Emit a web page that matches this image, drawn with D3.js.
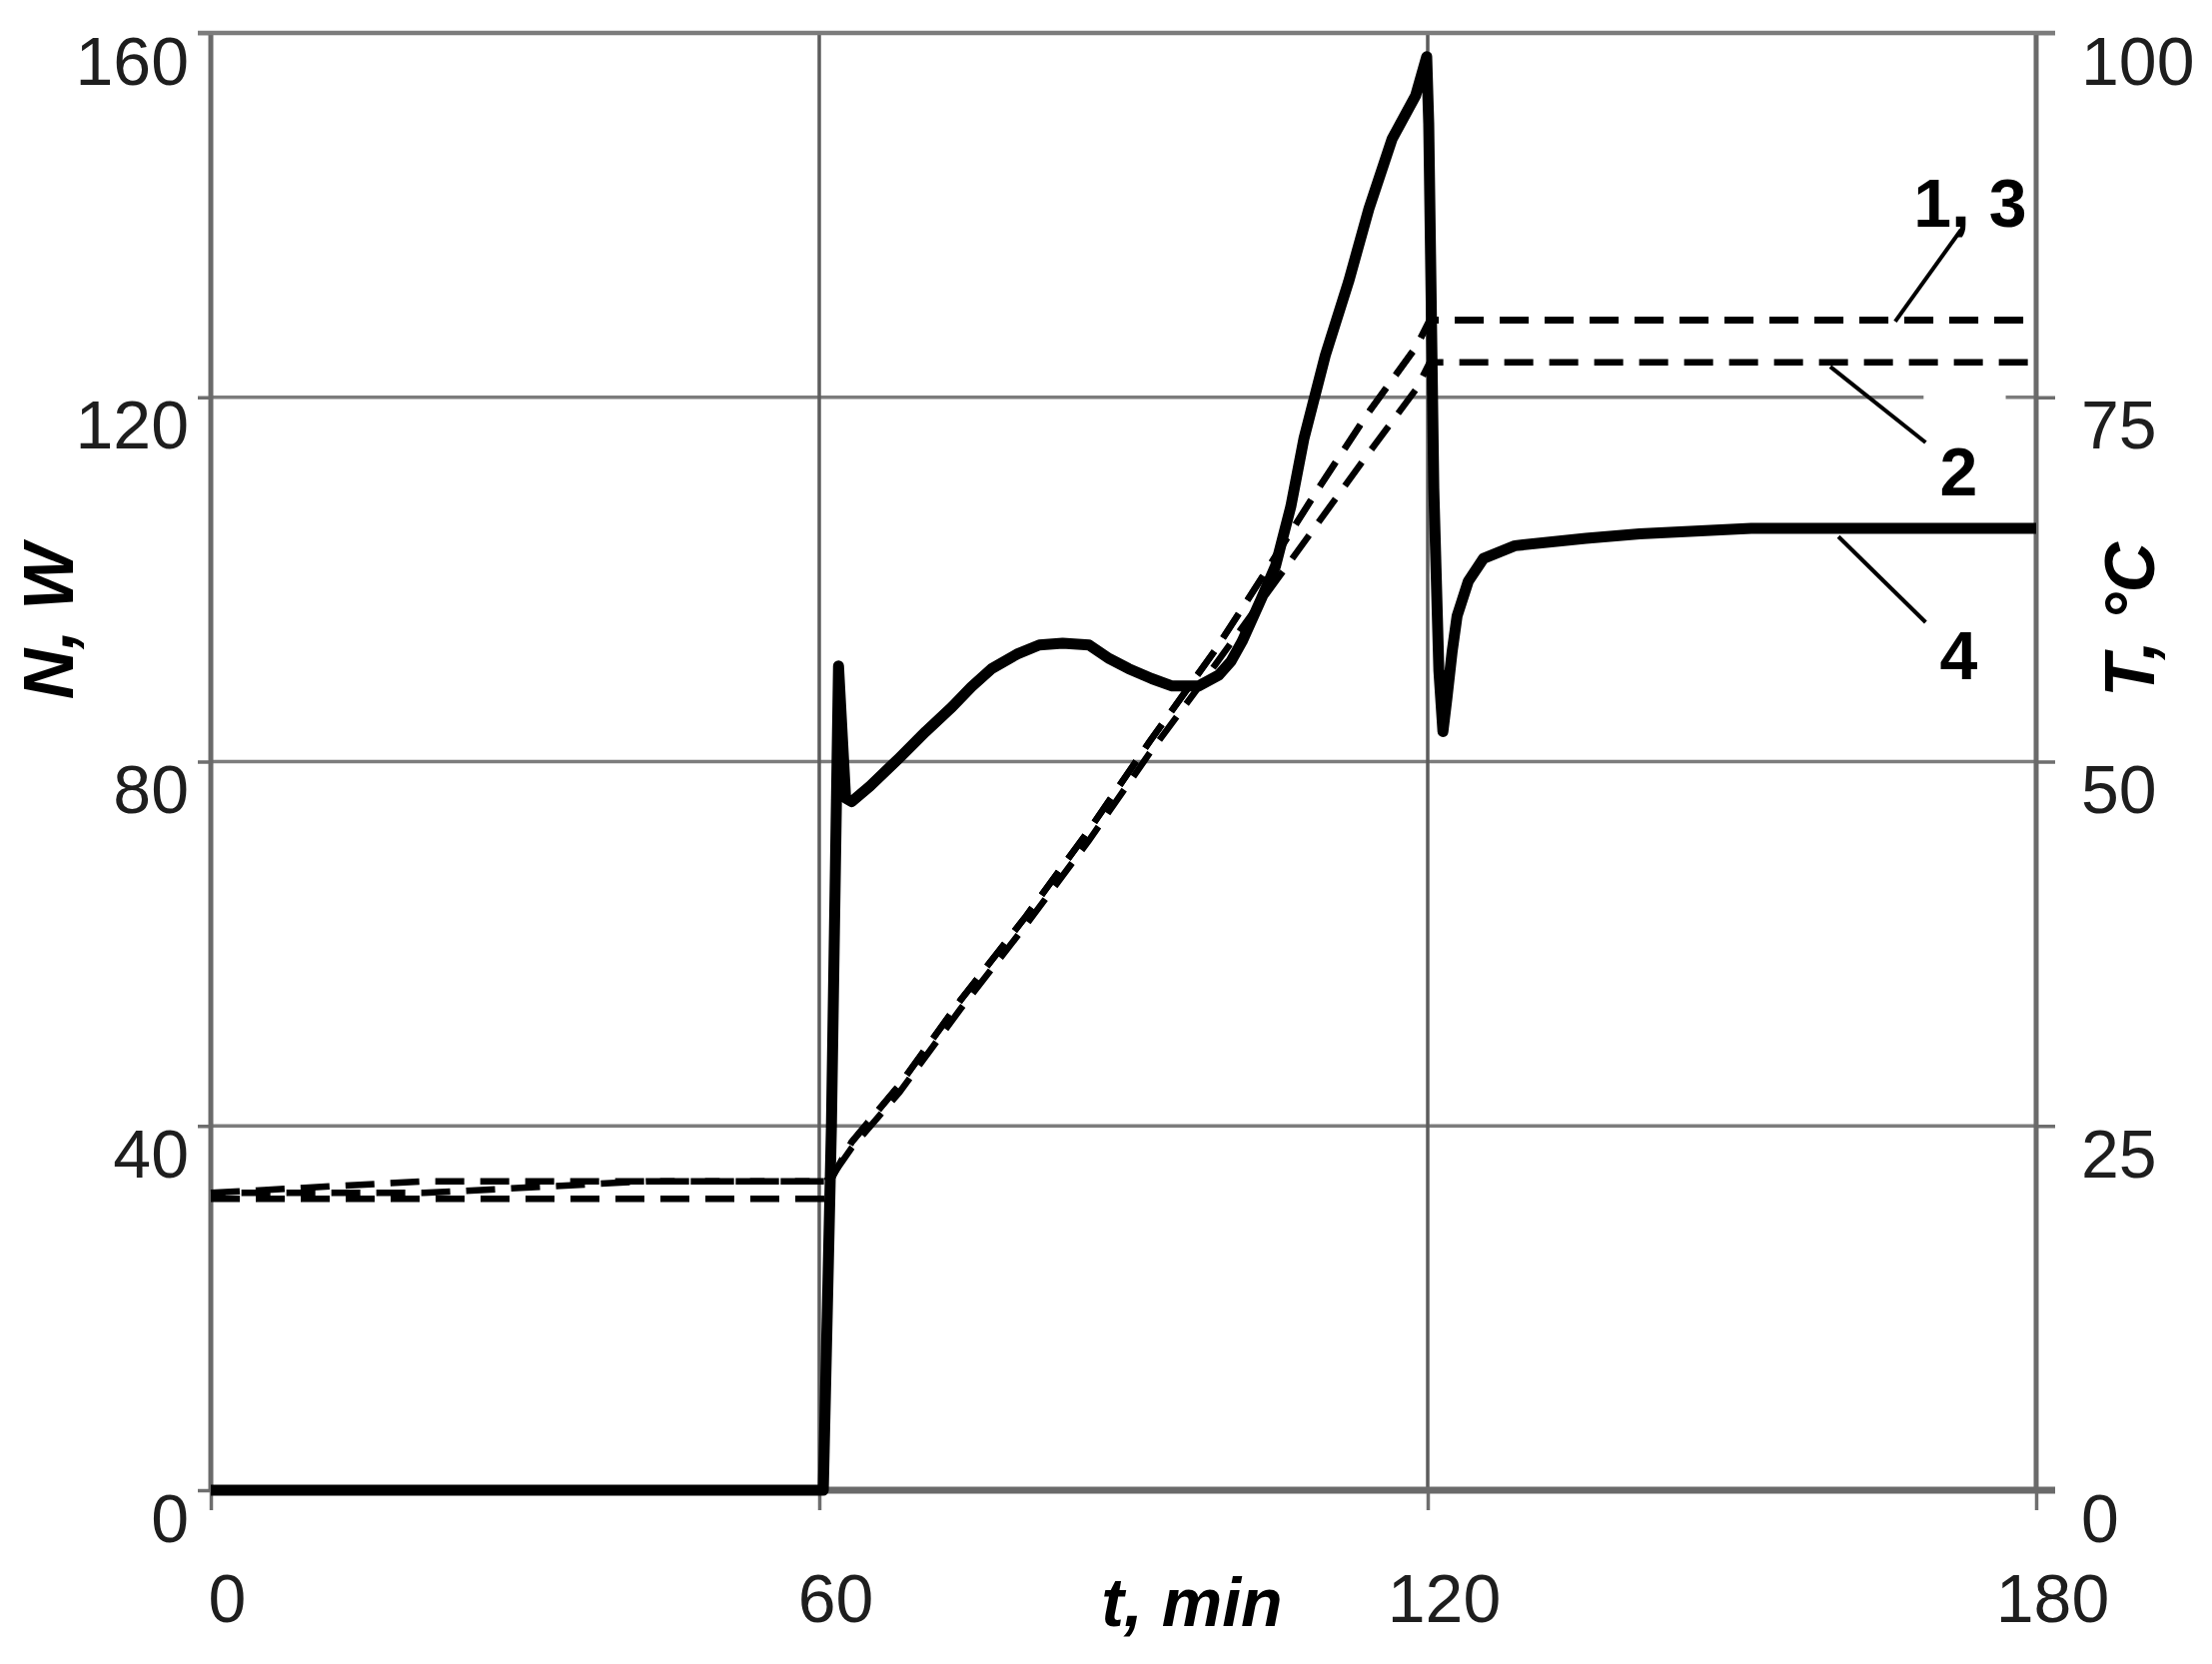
<!DOCTYPE html>
<html>
<head>
<meta charset="utf-8">
<script src="https://cdn.jsdelivr.net/npm/d3@7"></script>
<style>
  body { margin: 0; background: #fff; }
  text { font-family: "Liberation Sans", Arial, sans-serif; }
</style>
</head>
<body>
<div id="chart"></div>
<script>
// power, curve 4 (N, W)
const powerTime = [0, 60.4, 61.2, 61.9, 62.6, 63.2, 65, 67.9, 70.5, 73.1, 75, 77, 79.5, 81.7, 84, 86.6, 88.6, 90.5, 92.8, 94.8, 97.4, 99.4, 100.6, 101.7, 103.6, 105, 106.5, 107.8, 109.9, 112.2, 114.2, 116.5, 118.8, 119.9, 120.1, 120.6, 121.1, 121.5, 121.9, 122.4, 122.9, 124, 125.5, 128.6, 135.6, 140.9, 151.9, 180];
const powerN = [0, 0, 40, 90.5, 76, 75.6, 77.3, 80.4, 83.3, 86, 88.2, 90.2, 91.8, 92.8, 93, 92.8, 91.3, 90.2, 89.1, 88.3, 88.3, 89.5, 91, 93.2, 97.9, 101.5, 108, 115.5, 124.6, 132.7, 140.7, 148.4, 153.1, 157.4, 150, 110, 90, 83.3, 87, 92, 96, 99.8, 102.3, 103.7, 104.5, 105, 105.6, 105.6];

// temperatures, curves 1, 2, 3 (T, °C)
const temp1Time = [0, 60.6, 61.3, 63.2, 67.9, 73.9, 80.4, 86.6, 92.6, 99, 104, 109, 114, 118.9, 120.2, 180];
const temp1 = [20.0, 20.0, 21.5, 23.9, 27.8, 33.6, 39.4, 45.3, 51.4, 57.6, 63.0, 68.5, 73.8, 78.5, 80.3, 80.3];
const temp2Time = [0, 21, 60.6, 61.3, 63.2, 67.9, 73.9, 80.4, 86.6, 92.6, 99, 104, 109, 114, 118.9, 120.2, 180];
const temp2 = [20.4, 21.2, 21.2, 21.6, 23.5, 27.3, 33.0, 38.8, 44.6, 50.6, 56.6, 61.4, 66.2, 71.0, 75.6, 77.4, 77.4];
const temp3Time = [0, 21, 43, 60.6, 61.3, 63.2, 67.9, 73.9, 80.4, 86.6, 92.6, 99, 104, 109, 114, 118.9, 120.2, 180];
const temp3 = [20.4, 20.4, 21.2, 21.2, 21.5, 23.9, 27.8, 33.6, 39.4, 45.3, 51.4, 57.6, 63.0, 68.5, 73.8, 78.5, 80.3, 80.3];

const timeTicks = [0, 60, 120, 180];
const powerTicks = [0, 40, 80, 120, 160];
const tempTicks = [0, 25, 50, 75, 100];

const width = 2214;
const height = 1666;
const margin = { top: 33, right: 176, bottom: 174, left: 211 };

const svg = d3.select("#chart").append("svg")
  .attr("width", width)
  .attr("height", height);

svg.append("rect").attr("width", width).attr("height", height).attr("fill", "#fff");

const x = d3.scaleLinear().domain([0, 180]).range([margin.left, width - margin.right]);
const yN = d3.scaleLinear().domain([0, 160]).range([height - margin.bottom, margin.top]);
const yT = d3.scaleLinear().domain([0, 100]).range([height - margin.bottom, margin.top]);

const x0 = x(0), x1 = x(180), yb = yN(0), yt = yN(160);

// grid
svg.append("g")
  .selectAll("line")
  .data(powerTicks.filter(d => d > 0))
  .join("line")
  .attr("x1", x0).attr("x2", x1)
  .attr("y1", d => yN(d)).attr("y2", d => yN(d))
  .attr("stroke", "#7c7c7c")
  .attr("stroke-width", 3.5);

svg.append("g")
  .selectAll("line")
  .data([60, 120])
  .join("line")
  .attr("x1", d => x(d)).attr("x2", d => x(d))
  .attr("y1", yt).attr("y2", yb)
  .attr("stroke", "#5c5c5c")
  .attr("stroke-width", 3.5);

// axes
const styleAxis = g => {
  g.select(".domain").remove();
  g.selectAll(".tick line").attr("stroke", "#6e6e6e").attr("stroke-width", 3.5);
  g.selectAll(".tick text")
    .attr("fill", "#1e1e1e")
    .style("font-size", "68px");
};

svg.append("g")
  .attr("transform", `translate(${x0},0)`)
  .call(d3.axisLeft(yN).tickValues(powerTicks).tickSize(13).tickPadding(9))
  .call(styleAxis)
  .call(g => g.selectAll(".tick text").attr("dy", "0.75em"));

svg.append("g")
  .attr("transform", `translate(${x1},0)`)
  .call(d3.axisRight(yT).tickValues(tempTicks).tickSize(19).tickPadding(26))
  .call(styleAxis)
  .call(g => g.selectAll(".tick text").attr("dy", "0.75em"));

svg.append("g")
  .attr("transform", `translate(0,${yb})`)
  .call(d3.axisBottom(x).tickValues(timeTicks).tickSize(20).tickPadding(64))
  .call(styleAxis)
  .call(g => g.selectAll(".tick text").attr("dx", 16));

// frame
svg.append("line").attr("x1", x0).attr("x2", x0).attr("y1", yt).attr("y2", yb)
  .attr("stroke", "#6a6a6a").attr("stroke-width", 5);
svg.append("line").attr("x1", x1).attr("x2", x1).attr("y1", yt).attr("y2", yb)
  .attr("stroke", "#6a6a6a").attr("stroke-width", 5);
svg.append("line").attr("x1", x0).attr("x2", x1 + 19).attr("y1", yb).attr("y2", yb)
  .attr("stroke", "#6a6a6a").attr("stroke-width", 7);
svg.append("line").attr("x1", x0 - 13).attr("x2", x1 + 19).attr("y1", yt).attr("y2", yt)
  .attr("stroke", "#7c7c7c").attr("stroke-width", 4.5);

// white box behind label 2 (breaks the 120 grid line like the original)
svg.append("rect")
  .attr("x", x(168.9)).attr("y", yT(75.5))
  .attr("width", x(177) - x(168.9)).attr("height", yT(67.6) - yT(75.5))
  .attr("fill", "#fff");

// temperature curves
const tLine = d3.line().x(d => x(d[0])).y(d => yT(d[1]));
const temps = [
  d3.zip(temp1Time, temp1),
  d3.zip(temp2Time, temp2),
  d3.zip(temp3Time, temp3)
];

const tempPaths = svg.append("g")
  .selectAll("path")
  .data(temps)
  .join("path")
  .attr("d", tLine)
  .attr("fill", "none")
  .attr("stroke", "#000")
  .attr("stroke-width", 6.5)
  .attr("stroke-dasharray", "29,16");

// curves 1 and 3 run together after 60 min: line up their dashes
const len = tempPaths.nodes().map(n => n.getTotalLength());
d3.select(tempPaths.nodes()[2]).attr("stroke-dashoffset", len[0] - len[2]);

// power curve
const nLine = d3.line().x(d => x(d[0])).y(d => yN(d[1]));
svg.append("path")
  .datum(d3.zip(powerTime, powerN))
  .attr("d", nLine)
  .attr("fill", "none")
  .attr("stroke", "#000")
  .attr("stroke-width", 11)
  .attr("stroke-linejoin", "round");

// curve labels with leaders
const leaders = [
  { from: [166.1, yT(80.2)], to: [172.6, yT(86.5)] },
  { from: [159.7, yT(77.1)], to: [169.1, yT(71.9)] },
  { from: [160.5, yN(104.7)], to: [169.1, yN(95.3)] }
];
svg.append("g")
  .selectAll("line")
  .data(leaders)
  .join("line")
  .attr("x1", d => x(d.from[0])).attr("y1", d => d.from[1])
  .attr("x2", d => x(d.to[0])).attr("y2", d => d.to[1])
  .attr("stroke", "#000")
  .attr("stroke-width", 4);

const curveLabels = [
  { text: "1, 3", t: 167.9, y: yT(86.7) },
  { text: "2", t: 170.5, y: yT(68.3) },
  { text: "4", t: 170.5, y: yN(89.0) }
];
svg.append("g")
  .selectAll("text")
  .data(curveLabels)
  .join("text")
  .attr("x", d => x(d.t))
  .attr("y", d => d.y)
  .attr("font-weight", "bold")
  .style("font-size", "68px")
  .text(d => d.text);

// axis titles
svg.append("text")
  .attr("transform", `translate(73,${(yt + yb) / 2 - 140}) rotate(-90)`)
  .attr("text-anchor", "middle")
  .attr("font-weight", "bold")
  .attr("font-style", "italic")
  .style("font-size", "70px")
  .text("N, W");

svg.append("text")
  .attr("transform", `translate(2156,${(yt + yb) / 2 - 142}) rotate(-90)`)
  .attr("text-anchor", "middle")
  .attr("font-weight", "bold")
  .attr("font-style", "italic")
  .style("font-size", "70px")
  .text("T, °C");

svg.append("text")
  .attr("x", 1193)
  .attr("y", 1628)
  .attr("text-anchor", "middle")
  .attr("font-weight", "bold")
  .attr("font-style", "italic")
  .style("font-size", "68px")
  .text("t, min");
</script>
</body>
</html>
